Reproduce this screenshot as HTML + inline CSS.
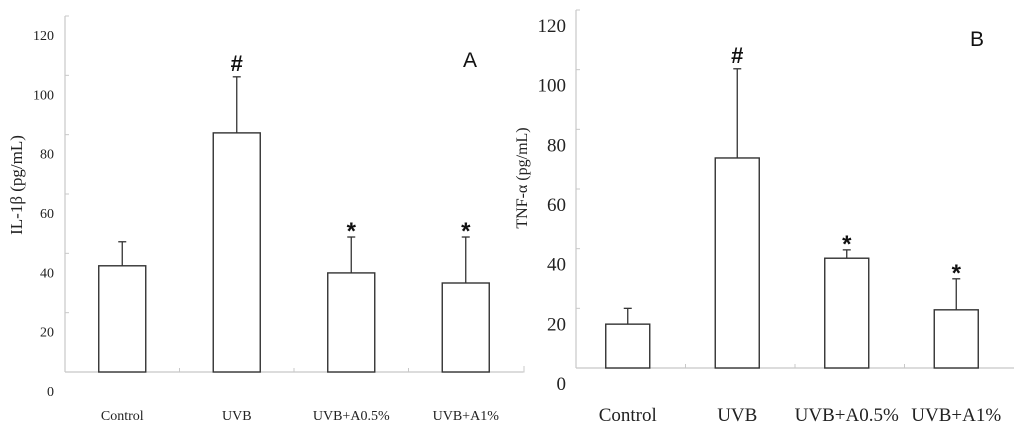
<!DOCTYPE html>
<html><head><meta charset="utf-8">
<style>
html,body{margin:0;padding:0;background:#fff;}
svg{display:block;}
</style></head>
<body>
<svg id="chart" width="1024" height="431" viewBox="0 0 1024 431" xmlns="http://www.w3.org/2000/svg"></svg>
<script>
const categories = ["Control","UVB","UVB+A0.5%","UVB+A1%"];
const ilValues = [35.8, 80.6, 33.4, 30.0];
const ilErrors = [8.1, 18.9, 12.1, 15.5];
const ilMarks = ["", "#", "*", "*"];
const tnfValues = [14.7, 70.4, 36.8, 19.5];
const tnfErrors = [5.3, 29.9, 2.8, 10.4];
const tnfMarks = ["", "#", "*", "*"];
const yTicks = [0,20,40,60,80,100,120];

const NS = "http://www.w3.org/2000/svg";
const svg = document.getElementById("chart");
function mk(tag, attrs, parent){
  const e = document.createElementNS(NS, tag);
  for (const k in attrs) e.setAttribute(k, attrs[k]);
  (parent||svg).appendChild(e);
  return e;
}

function panel(cfg, values, errors, marks){
  const g = mk("g", {});
  
  
  const y = v => cfg.y0 - v * (cfg.y0 - cfg.y1) / 120;
  const catW = (cfg.x1 - cfg.x0) / categories.length;
  const x = i => cfg.x0 + catW * (i + 0.5);
  const ya = mk("line", {x1:cfg.x0, x2:cfg.x0, y1:cfg.y1, y2:cfg.y0, stroke:"#c8c8c8", "stroke-width":1.2}, g);
  
  
  yTicks.forEach(t => {
    const tk = mk("line", {x1:cfg.x0, x2:cfg.x0+4, y1:y(t), y2:y(t), stroke:"#c8c8c8", "stroke-width":1}, g);
    
    
    const tl = mk("text", {x:cfg.tickX, y:y(t)+cfg.labOff, "text-anchor":"end", "font-family":"Liberation Serif, serif", "font-size":cfg.tickFs, fill:"#222"}, g);
    tl.textContent = t;
    
    
  });
  const xa = mk("line", {x1:cfg.x0, x2:cfg.x1, y1:cfg.y0, y2:cfg.y0, stroke:"#c8c8c8", "stroke-width":1.2}, g);
  
  
  for (let i=1;i<categories.length;i++){
    const xt = mk("line", {x1:cfg.x0+catW*i, x2:cfg.x0+catW*i, y1:cfg.y0, y2:cfg.y0-4, stroke:"#c8c8c8", "stroke-width":1}, g);
    
    
  }
  categories.forEach((c,i) => {
    const cx = x(i) + cfg.barShift;
    const top = y(values[i]);
    const eTop = y(values[i] + errors[i]);
    const el = mk("line", {x1:cx, x2:cx, y1:top, y2:eTop, stroke:"#333", "stroke-width":1.3}, g);
    
    
    const cap = mk("line", {x1:cx-4, x2:cx+4, y1:eTop, y2:eTop, stroke:"#333", "stroke-width":1.3}, g);
    
    
    const b = mk("rect", {x:cx-cfg.barW/2, y:top, width:cfg.barW, height:cfg.y0-top, fill:"#fff", stroke:"#333", "stroke-width":1.4}, g);
    
    
    if (marks[i]) {
      const isHash = marks[i]==="#";
      const m = mk("text", {x:cx, y:isHash ? eTop-6 : eTop+2, "text-anchor":"middle", "font-family":"Liberation Sans, sans-serif", "font-weight":"bold", "font-size":isHash?22:24, fill:"#111"}, g);
      m.textContent = marks[i];
      
      
    }
    const cl = mk("text", {x:x(i)+cfg.barShift, y:cfg.catY, "text-anchor":"middle", "font-family":"Liberation Serif, serif", "font-size":cfg.catFs, fill:"#222"}, g);
    cl.textContent = c;
    
    
  });
  const yt = mk("text", {x:0, y:0, "text-anchor":"middle", transform:`translate(${cfg.titleX},${cfg.titleY}) rotate(-90)`, "font-family":"Liberation Serif, serif", "font-size":cfg.titleFs, fill:"#222"}, g);
  yt.textContent = cfg.title;
  
  
  const pl = mk("text", {x:cfg.letterX, y:cfg.letterY, "text-anchor":"middle", "font-family":"Liberation Sans, sans-serif", "font-size":21, fill:"#111"}, g);
  pl.textContent = cfg.letter;
  
  
}

panel({name:"panel-a-il1b", x0:65, x1:523, y0:372, y1:16, tickX:54, labOff:24, tickFs:14,
  barW:47, barShift:0, catY:420, catFs:14, title:"IL-1β (pg/mL)", titleX:22, titleY:185, titleFs:17,
  letter:"A", letterX:470, letterY:67}, ilValues, ilErrors, ilMarks);
panel({name:"panel-b-tnfa", x0:576, x1:1014, y0:368, y1:10, tickX:566, labOff:22, tickFs:19,
  barW:44, barShift:-3, catY:421, catFs:19, title:"TNF-α (pg/mL)", titleX:527, titleY:178, titleFs:16,
  letter:"B", letterX:977, letterY:46}, tnfValues, tnfErrors, tnfMarks);
const br = mk("path", {d:"M512 372 L524 372 L524 366", stroke:"#c8c8c8", fill:"none", "stroke-width":1});


</script>
</body></html>
